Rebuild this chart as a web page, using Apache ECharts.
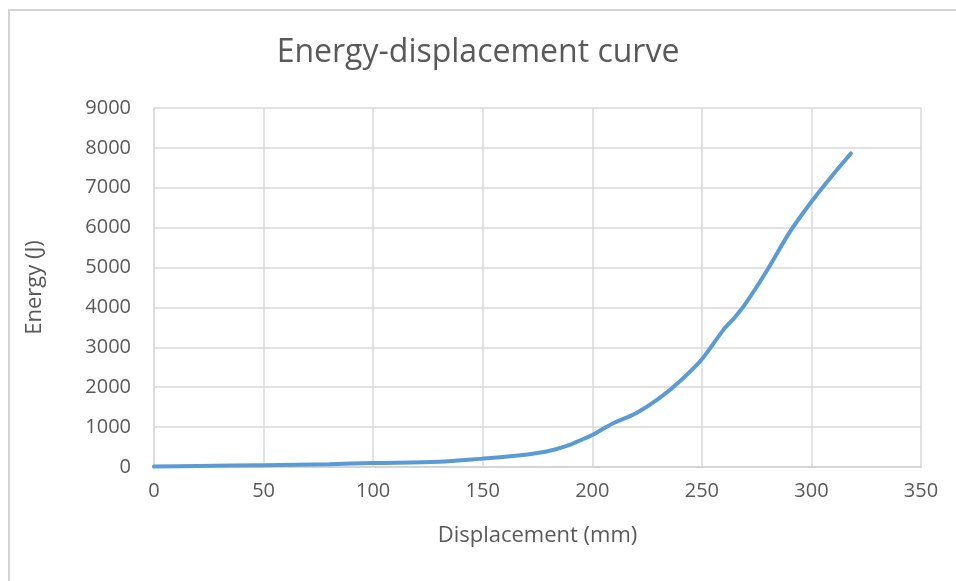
<!DOCTYPE html>
<html>
<head>
<meta charset="utf-8">
<script src="https://cdn.jsdelivr.net/npm/echarts@6/dist/echarts.min.js"></script>
<style>
  html, body { margin: 0; padding: 0; background: #fff; }
  #chart { position: absolute; left: 0; top: 0; width: 956px; height: 581px; }
  #frame {
    position: absolute; left: 8px; top: 9px; width: 960px; height: 580px;
    border-left: 2px solid #d4d4d4; border-top: 2px solid #d4d4d4;
    pointer-events: none; z-index: 5;
  }
</style>
</head>
<body>
<div id="chart"></div>
<div id="frame"></div>
<script>
// displacement (mm) and energy (J)
const displacement = [0, 20, 50, 80, 100, 130, 150, 165, 175, 183, 190, 195, 200, 205, 210, 220, 230, 240, 250, 260, 265, 270, 280, 290, 300, 310, 318]
const energy = [10, 25, 45, 70, 100, 130, 210, 280, 350, 440, 560, 680, 800, 960, 1110, 1350, 1700, 2150, 2700, 3450, 3750, 4100, 4950, 5880, 6650, 7340, 7860]

const xTicks = [0, 50, 100, 150, 200, 250, 300, 350]
const yTicks = [0, 1000, 2000, 3000, 4000, 5000, 6000, 7000, 8000, 9000]

const font = '"Open Sans", "Liberation Sans", sans-serif'
const textColor = '#595959'

const chart = echarts.init(document.getElementById('chart'))
chart.setOption({
  animation: false,
  title: {
    text: 'Energy-displacement curve',
    left: 'center',
    top: 32,
    textStyle: { fontFamily: font, fontSize: 32, fontWeight: 'normal', color: textColor }
  },
  grid: { left: 154, right: 35, top: 108, bottom: 114 },
  xAxis: {
    type: 'value',
    min: xTicks[0],
    max: xTicks[xTicks.length - 1],
    interval: 50,
    name: 'Displacement (mm)',
    nameLocation: 'middle',
    nameGap: 58,
    nameTextStyle: { fontFamily: font, fontSize: 22, color: textColor },
    axisLine: { show: true, lineStyle: { color: '#cfcfcf', width: 1.5 } },
    axisTick: { show: false },
    axisLabel: { fontFamily: font, fontSize: 20, color: textColor, margin: 14 },
    splitLine: { show: true, lineStyle: { color: '#d9d9d9', width: 1.5 } }
  },
  yAxis: {
    type: 'value',
    min: yTicks[0],
    max: yTicks[yTicks.length - 1],
    interval: 1000,
    name: 'Energy (J)',
    nameLocation: 'middle',
    nameGap: 108,
    nameRotate: 90,
    nameTextStyle: { fontFamily: font, fontSize: 22, color: textColor },
    axisLine: { show: true, lineStyle: { color: '#d9d9d9', width: 1.5 } },
    axisTick: { show: false },
    axisLabel: { fontFamily: font, fontSize: 20, color: textColor, margin: 23, formatter: v => String(v) },
    splitLine: { show: true, lineStyle: { color: '#d9d9d9', width: 1.5 } }
  },
  series: [
    {
      type: 'line',
      data: displacement.map((d, i) => [d, energy[i]]),
      smooth: 0.3,
      showSymbol: false,
      lineStyle: { color: '#5b9bd5', width: 4, cap: 'round' }
    }
  ]
})
</script>
</body>
</html>
